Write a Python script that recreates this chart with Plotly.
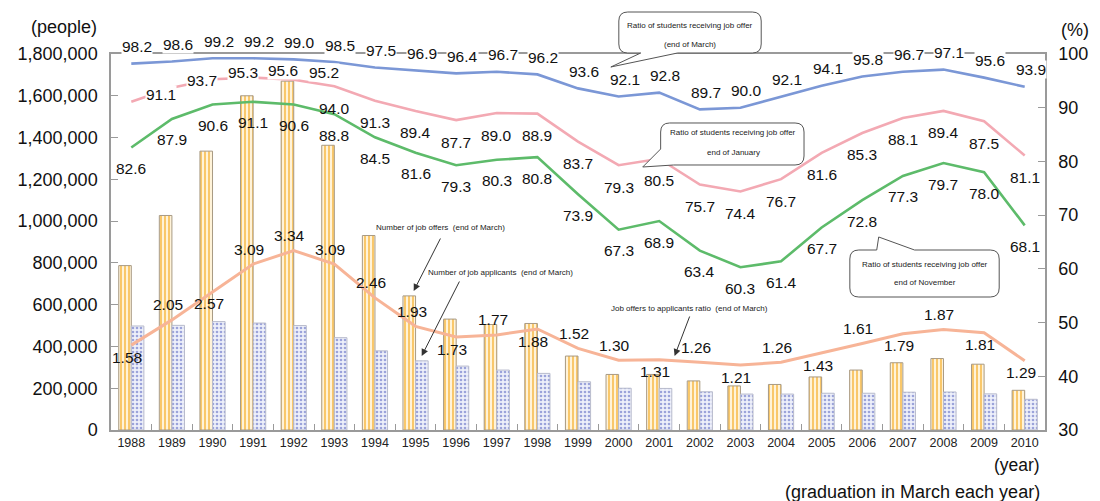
import plotly.graph_objects as go

# ---------------- data ----------------
years = [str(y) for y in range(1988, 2011)]
job_offers = [787000, 1027000, 1335000, 1600000, 1670000, 1363000, 931000, 642000, 531000,
              505000, 510000, 354000, 266000, 266000, 235000, 211000, 218000, 254000, 287000,
              322000, 342000, 315000, 190000]
job_applicants = [498000, 501000, 519000, 512000, 500000, 442000, 379000, 331000, 306000,
                  287000, 271000, 231000, 200000, 199000, 183000, 172000, 172000, 176000, 176000,
                  181000, 182000, 173000, 147000]
rate_march = [98.2, 98.6, 99.2, 99.2, 99.0, 98.5, 97.5, 96.9, 96.4, 96.7, 96.2, 93.6, 92.1,
              92.8, 89.7, 90.0, 92.1, 94.1, 95.8, 96.7, 97.1, 95.6, 93.9]
rate_january = [91.1, 93.7, 95.3, 95.6, 95.2, 94.0, 91.3, 89.4, 87.7, 89.0, 88.9, 83.7, 79.3,
                80.5, 75.7, 74.4, 76.7, 81.6, 85.3, 88.1, 89.4, 87.5, 81.1]
rate_november = [82.6, 87.9, 90.6, 91.1, 90.6, 88.8, 84.5, 81.6, 79.3, 80.3, 80.8, 73.9, 67.3,
                 68.9, 63.4, 60.3, 61.4, 67.7, 72.8, 77.3, 79.7, 78.0, 68.1]
offer_ratio = [1.58, 2.05, 2.57, 3.09, 3.34, 3.09, 2.46, 1.93, 1.73, 1.77, 1.88, 1.52, 1.30,
               1.31, 1.26, 1.21, 1.26, 1.43, 1.61, 1.79, 1.87, 1.81, 1.29]

# ---------------- style ----------------
FONT = "Arial, Liberation Sans, sans-serif"
SMALL_FONT = "Liberation Sans Narrow, Arial Narrow, Liberation Sans, Arial, sans-serif"
C_BLUE = "#7b97d6"
C_PINK = "#f3a9b3"
C_GREEN = "#5dbb6a"
C_RATIO = "#f7b497"
AXIS_C = "#9a9a9a"
# label placement for the ratio series: a = above the line, b = below
RATIO_POS = ["b", "a", "b", "a", "a", "a", "a", "a", "b", "a", "b", "a", "a", "b", "a", "b",
             "a", "b", "a", "b", "a", "b", "b"]

L, R, T, B = 111, 1049, 54, 430
W, H = R - L, B - T


def px(x, y):
    return (x - L) / W, (B - y) / H


fig = go.Figure()

fig.add_trace(go.Bar(
    x=years, y=job_offers, name="Number of job offers (end of March)",
    marker=dict(color="#fff0cf", line=dict(color="#a89a84", width=1),
                pattern=dict(shape="|", fgcolor="#f9c35e", bgcolor="#fff3d9",
                             size=4, solidity=0.45, fillmode="replace")),
    yaxis="y"))
fig.add_trace(go.Bar(
    x=years, y=job_applicants, name="Number of job applicants (end of March)",
    marker=dict(color="#dfe2f4", line=dict(color="#b8bbcc", width=1),
                pattern=dict(shape=".", fgcolor="#9ba3da", bgcolor="#eef0fa",
                             size=4, solidity=0.35, fillmode="replace")),
    yaxis="y"))

for vals, col in [(rate_march, C_BLUE), (rate_january, C_PINK), (rate_november, C_GREEN)]:
    fig.add_trace(go.Scatter(x=years, y=vals, mode="lines",
                             line=dict(color=col, width=2.6), yaxis="y2"))

fig.add_trace(go.Scatter(x=years, y=offer_ratio, mode="lines",
                         line=dict(color=C_RATIO, width=3), yaxis="y3"))

ann = []
lab_font = dict(family=FONT, size=15.5, color="#111")
for i, yr in enumerate(years):
    # category serial number i positions the label at that year's category
    ann.append(dict(x=i, y=rate_march[i], xref="x", yref="y2", text=f"{rate_march[i]:.1f}",
                    showarrow=False, yshift=17, xshift=6, font=lab_font, bgcolor="white",
                    borderpad=0))
    if i < 5:
        ann.append(dict(x=i, y=rate_january[i], xref="x", yref="y2",
                        text=f"{rate_january[i]:.1f}", showarrow=False, yshift=7, xshift=30,
                        font=lab_font, bgcolor="white", borderpad=0))
    else:
        ann.append(dict(x=i, y=rate_january[i], xref="x", yref="y2",
                        text=f"{rate_january[i]:.1f}", showarrow=False, yshift=-22,
                        font=lab_font))
    ann.append(dict(x=i, y=rate_november[i], xref="x", yref="y2",
                    text=f"{rate_november[i]:.1f}", showarrow=False, yshift=-21,
                    font=lab_font))
    ann.append(dict(x=i, y=offer_ratio[i], xref="x", yref="y3",
                    text=f"{offer_ratio[i]:.2f}", showarrow=False,
                    yshift=15 if RATIO_POS[i] == "a" else -12, xshift=-4,
                    font=lab_font))

# axis captions
def txt(x, y, s, size, anchor="center", family=FONT, color="#111"):
    xp, yp = px(x, y)
    ann.append(dict(x=xp, y=yp, xref="paper", yref="paper", text=s, showarrow=False,
                    xanchor=anchor, yanchor="middle", font=dict(family=family, size=size,
                                                                color=color)))

txt(64, 27, "(people)", 18)
txt(1079, 30, "(%)", 18)
txt(1046, 465, "(year)", 17.5, anchor="right")
txt(1046, 492, "(graduation in March each year)", 18, anchor="right")

# callout texts
sf = 8
txt(692, 26, "Ratio of students receiving job offer", sf, family=SMALL_FONT, color="#222")
txt(692, 45, "(end of March)", sf, family=SMALL_FONT, color="#222")
txt(736, 132, "Ratio of students receiving job offer", sf, family=SMALL_FONT, color="#222")
txt(736, 152, "end of January", sf, family=SMALL_FONT, color="#222")
txt(928, 264, "Ratio of students receiving job offer", sf, family=SMALL_FONT, color="#222")
txt(928, 282, "end of November", sf, family=SMALL_FONT, color="#222")

# arrow labels
txt(442, 227, "Number of job offers  (end of March)", sf, family=SMALL_FONT, color="#222")
txt(502, 272, "Number of job applicants  (end of March)", sf, family=SMALL_FONT, color="#222")
txt(692, 308, "Job offers to applicants ratio  (end of March)", sf, family=SMALL_FONT,
    color="#222")

def arrow(hx, hy, tx, ty):
    xp, yp = px(hx, hy)
    ann.append(dict(x=xp, y=yp, xref="paper", yref="paper", text=" ", showarrow=True,
                    ax=tx - hx, ay=ty - hy, arrowhead=2, arrowsize=1.4, arrowwidth=1,
                    arrowcolor="#333", font=dict(size=2)))

arrow(415, 291, 443, 236)
arrow(423, 356, 462, 279)
arrow(677, 356, 693, 314)


def path_from(points):
    s = []
    for p in points:
        if p[0] == "Q":
            c = px(*p[1]); e = px(*p[2])
            s.append(f"Q{c[0]:.5f},{c[1]:.5f} {e[0]:.5f},{e[1]:.5f}")
        else:
            q = px(*p[1])
            s.append(f"{p[0]}{q[0]:.5f},{q[1]:.5f}")
    return " ".join(s) + " Z"


def box_bottom_tail(x0, y0, x1, y1, r, ta, tb, tip):
    return path_from([
        ("M", (x0 + r, y0)), ("L", (x1 - r, y0)), ("Q", (x1, y0), (x1, y0 + r)),
        ("L", (x1, y1 - r)), ("Q", (x1, y1), (x1 - r, y1)), ("L", (tb, y1)),
        ("L", tip), ("L", (ta, y1)), ("L", (x0 + r, y1)), ("Q", (x0, y1), (x0, y1 - r)),
        ("L", (x0, y0 + r)), ("Q", (x0, y0), (x0 + r, y0))])


def box_corner_tail(x0, y0, x1, y1, r, bx, ly, tip):
    return path_from([
        ("M", (x0 + r, y0)), ("L", (x1 - r, y0)), ("Q", (x1, y0), (x1, y0 + r)),
        ("L", (x1, y1 - r)), ("Q", (x1, y1), (x1 - r, y1)), ("L", (bx, y1)),
        ("L", tip), ("L", (x0, ly)), ("L", (x0, y0 + r)), ("Q", (x0, y0), (x0 + r, y0))])


def box_top_tail(x0, y0, x1, y1, r, ta, tb, tip):
    return path_from([
        ("M", (x0 + r, y0)), ("L", (ta, y0)), ("L", tip), ("L", (tb, y0)),
        ("L", (x1 - r, y0)), ("Q", (x1, y0), (x1, y0 + r)),
        ("L", (x1, y1 - r)), ("Q", (x1, y1), (x1 - r, y1)),
        ("L", (x0 + r, y1)), ("Q", (x0, y1), (x0, y1 - r)),
        ("L", (x0, y0 + r)), ("Q", (x0, y0), (x0 + r, y0))])


shape_style = dict(type="path", xref="paper", yref="paper", fillcolor="white",
                   line=dict(color="#555", width=1), layer="above")
shapes = [
    dict(path=box_bottom_tail(621, 12, 764, 53, 9, 643, 680, (613, 67)), **shape_style),
    dict(path=box_corner_tail(663, 123, 807, 165, 9, 676, 149, (645, 167)), **shape_style),
    dict(path=box_top_tail(853, 250, 1003, 297, 9, 880, 918, (882, 237)), **shape_style),
]

fig.update_layout(
    width=1100, height=501,
    margin=dict(l=L, r=1100 - R, t=T, b=501 - B),
    paper_bgcolor="white", plot_bgcolor="white",
    showlegend=False,
    barmode="group", bargap=0.38, bargroupgap=0,
    font=dict(family=FONT, color="#111"),
    xaxis=dict(type="category", range=[-0.5, len(years) - 0.5], showline=True,
               linecolor=AXIS_C, linewidth=1.5,
               mirror=True, ticks="inside", tickson="boundaries", ticklen=6,
               tickcolor=AXIS_C, tickfont=dict(size=12.5, color="#222"), tickangle=0,
               showgrid=False, zeroline=False),
    yaxis=dict(range=[0, 1800000], dtick=200000, tickformat=",d", showline=True,
               linecolor=AXIS_C, linewidth=1.5, ticks="inside", ticklen=7, tickcolor=AXIS_C,
               tickfont=dict(size=18), showgrid=False, zeroline=False,
               ticklabelstandoff=8),
    yaxis2=dict(range=[30, 100], dtick=10, overlaying="y", side="right", showline=True,
                linecolor=AXIS_C, linewidth=1.5, ticks="inside", ticklen=7,
                tickcolor=AXIS_C, tickfont=dict(size=18), showgrid=False, zeroline=False,
                ticklabelstandoff=8),
    yaxis3=dict(range=[0, 7], overlaying="y", visible=False, showgrid=False),
    annotations=ann,
    shapes=shapes,
)

fig.write_html("out.html")
